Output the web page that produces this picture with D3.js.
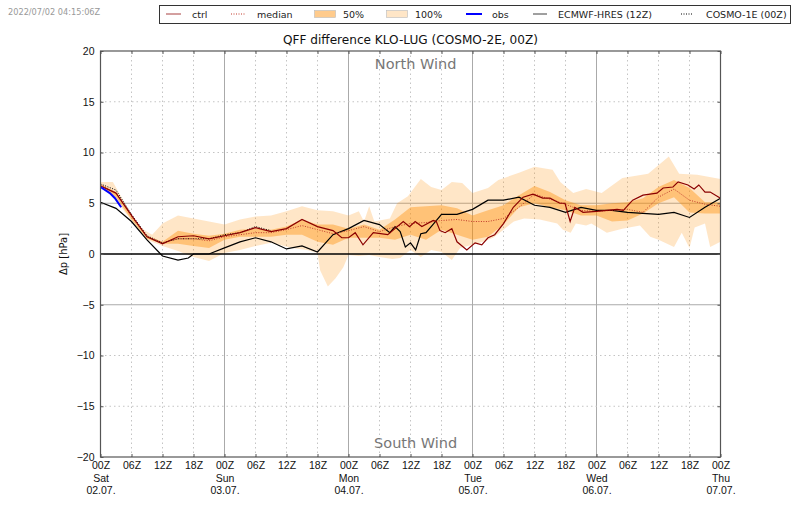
<!DOCTYPE html>
<html lang="en">
<head>
  <meta charset="UTF-8" />
  <title>QFF difference KLO-LUG</title>
  <script src="https://d3js.org/d3.v7.min.js"></script>
  <style>
    html, body { margin: 0; padding: 0; background: #fff; }
    svg { display: block; font-family: "DejaVu Sans", sans-serif; }
    .tick text { font-size: 10.5px; fill: #111; }
    .tick line { stroke: #555; }
    .band { stroke: none; }
    .line { fill: none; }
  </style>
</head>
<body>
  <svg width="800" height="509"></svg>

  <script>
    const title = "QFF difference KLO-LUG (COSMO-2E, 00Z)";
    const stamp = "2022/07/02 04:15:06Z";

    const gridHours = d3.range(0, 121, 3);
    const p75 = [6.9, 6.1, 3.8, 1.8, 1.2, 2.3, 2.0, 1.8, 2.0, 2.4, 2.5, 2.4, 2.7, 3.4, 2.9, 2.9, 2.5, 2.9, 2.4, 3.4, 4.6, 4.7, 4.8, 4.5, 3.8, 4.3, 4.8, 5.8, 6.7, 6.1, 5.3, 4.8, 4.8, 5.0, 5.1, 5.5, 6.6, 7.3, 6.5, 5.1, 5.1];
    const p25 = [6.7, 5.6, 3.4, 1.5, 1.0, 1.0, 0.8, 0.6, 1.4, 1.7, 1.7, 1.7, 1.9, 1.9, 1.2, 0.9, 1.6, 1.6, 1.6, 1.4, 1.9, 1.4, 2.4, 1.9, 1.4, 1.7, 2.9, 4.6, 5.0, 4.6, 4.3, 3.8, 3.8, 3.2, 3.3, 4.0, 5.0, 5.6, 4.1, 4.0, 4.0];
    const medianVals = [6.8, 6.0, 3.7, 1.7, 1.1, 1.5, 1.5, 1.3, 1.7, 1.9, 2.1, 2.1, 2.4, 2.8, 2.4, 2.0, 2.3, 2.7, 2.2, 2.7, 3.0, 3.1, 3.3, 3.4, 3.2, 3.2, 3.5, 4.6, 5.9, 5.4, 4.9, 4.3, 4.2, 4.3, 4.4, 4.1, 5.6, 6.4, 5.3, 4.9, 4.7];

    const maxHours = [0, 2.4, 4.4, 7, 9, 10, 12, 15, 18, 21, 24, 27, 30, 33, 36, 39, 42, 45, 48, 50, 51, 52, 53, 56, 57.4, 59.5, 62, 64, 66, 68, 70, 72, 75, 77, 81, 84, 87.5, 89, 91.5, 94, 97, 101, 106, 110, 112, 115.5, 120];
    const maxVals = [7.1, 7.1, 5.3, 2.9, 2.2, 1.9, 3.0, 3.8, 3.5, 3.2, 2.9, 3.4, 3.7, 3.8, 4.2, 4.7, 4.3, 4.2, 3.8, 4.2, 3.2, 4.7, 3.2, 3.5, 5.0, 5.7, 7.4, 6.6, 6.3, 7.1, 7.0, 6.0, 6.5, 7.3, 8.0, 8.6, 8.3, 7.1, 6.0, 6.4, 6.0, 7.5, 7.9, 9.6, 7.9, 7.8, 7.4];

    const minHours = [0, 3, 6, 9, 12, 15, 18, 21, 24, 27, 30, 33, 37, 40, 42, 42.5, 44, 45.5, 47, 48, 50, 52, 54, 56.5, 58, 60, 62, 64, 66, 68, 69.6, 72, 74, 76, 78, 80, 82, 85, 88.4, 89.5, 91, 92, 94, 95, 98, 101, 104.4, 106.4, 108, 111, 112.5, 114, 115, 117, 118, 120];
    const minVals = [6.8, 5.3, 3.3, 1.4, 0.8, 0.3, -0.3, -0.7, 0.1, 0.4, 0.8, 1.1, 0.6, 0.4, 0.1, -1.6, -3.2, -2.4, -1.3, -0.1, -0.2, -0.1, -0.3, -0.5, -0.4, 0.4, -0.3, 0.4, 0.2, -0.6, 0.6, 0.9, 1.2, 1.6, 2.4, 3.2, 3.5, 3.4, 3.0, 2.4, 2.1, 3.0, 2.8, 3.0, 2.1, 2.5, 2.8, 1.7, 1.4, 0.7, 2.1, 0.6, 2.6, 3.0, 0.7, 1.2];

    const ctrlHours = [0, 3, 6, 9, 12, 15, 18, 21, 24, 27, 30, 33, 36, 39, 42, 45, 46.7, 48, 49.3, 50.8, 52.8, 55.6, 58.6, 59.8, 60.9, 62.2, 64.4, 65, 65.7, 66.7, 68, 69, 70.9, 72.5, 73.8, 75, 76.3, 78, 79.9, 81.8, 83.7, 85.6, 87, 88.9, 89.9, 90.9, 91.8, 93.4, 96, 100, 101.2, 103, 105, 107.7, 108.9, 110.8, 111.8, 113.7, 114.9, 115.8, 117, 118, 120];
    const ctrlVals = [6.7, 6.0, 3.8, 1.7, 1.0, 1.7, 1.8, 1.5, 1.8, 2.1, 2.6, 2.2, 2.5, 3.4, 2.7, 2.3, 1.6, 1.6, 2.1, 0.9, 2.1, 1.9, 3.2, 2.7, 3.2, 2.7, 3.3, 3.2, 2.3, 2.1, 2.5, 1.2, 0.4, 1.1, 0.9, 1.6, 1.9, 3.0, 4.6, 5.6, 5.9, 5.5, 5.5, 5.0, 5.0, 3.2, 4.6, 4.1, 4.2, 4.4, 4.3, 5.3, 5.8, 6.0, 6.5, 6.6, 7.1, 6.8, 6.4, 6.8, 6.1, 6.1, 5.5];

    const hresHours = [0, 3, 6, 9, 12, 15, 17, 18, 21, 24, 27, 30, 33, 36, 39, 42, 45, 48, 51, 54, 56, 57, 58, 59, 60, 61, 62, 63, 64.5, 66, 69, 72, 75, 78, 81, 84, 87, 90, 93, 96, 99, 102, 105, 108, 111, 114, 117, 120];
    const hresVals = [5.1, 4.5, 3.2, 1.4, -0.2, -0.6, -0.4, 0.0, 0.0, 0.6, 1.2, 1.6, 1.2, 0.5, 0.8, 0.2, 1.9, 2.5, 3.3, 2.9, 2.1, 2.7, 2.2, 0.7, 1.1, 0.4, 2.0, 2.1, 3.0, 3.9, 3.9, 4.4, 5.3, 5.3, 5.6, 4.8, 4.6, 4.1, 4.6, 4.3, 4.3, 4.1, 4.0, 3.9, 4.1, 3.6, 4.6, 5.5];

    const cosmo1Hours = d3.range(0, 34, 3);
    const cosmo1Vals = [6.9, 6.3, 3.9, 1.8, 1.1, 1.5, 1.5, 1.5, 1.9, 2.1, 2.7, 2.3];

    const obsHours = [0, 1.8, 2.8, 4];
    const obsVals = [6.6, 6.0, 5.5, 4.6];

    const yTicks = [-20, -15, -10, -5, 0, 5, 10, 15, 20];
    const xTicks = d3.range(0, 121, 6);
    const dayLabels = { 0: ["Sat", "02.07."], 24: ["Sun", "03.07."], 48: ["Mon", "04.07."], 72: ["Tue", "05.07."], 96: ["Wed", "06.07."], 120: ["Thu", "07.07."] };

    const red = "#8b0000";
    const orange = "#ff8c00";

    const margin = { top: 51, right: 79.5, bottom: 52, left: 100.5 },
          width = 800 - margin.left - margin.right,
          height = 509 - margin.top - margin.bottom;

    const root = d3.select("svg");
    const svg = root.append("g")
      .attr("transform", `translate(${margin.left},${margin.top})`);

    const x = d3.scaleLinear().domain([0, 120]).range([0, width]);
    const y = d3.scaleLinear().domain([-20, 20]).range([height, 0]);

    function pairs(hours, vals) {
      return hours.map((h, i) => ({ h, v: vals[i] }));
    }

    // grid, the bands are see-through and sit on top of it
    svg.append("g").selectAll("line")
      .data(xTicks.filter(h => h > 0 && h < 120))
      .join("line")
      .attr("x1", d => x(d)).attr("x2", d => x(d))
      .attr("y1", 0).attr("y2", height)
      .attr("stroke", d => d % 24 === 0 ? "#aaa" : "#c4c4c4")
      .attr("stroke-width", 1)
      .attr("stroke-dasharray", d => d % 24 === 0 ? null : "1.5 3");

    svg.append("g").selectAll("line")
      .data(yTicks.filter(v => v !== 0 && Math.abs(v) < 20))
      .join("line")
      .attr("x1", 0).attr("x2", width)
      .attr("y1", d => y(d)).attr("y2", d => y(d))
      .attr("stroke", d => Math.abs(d) === 5 ? "#aaa" : "#c4c4c4")
      .attr("stroke-width", 1)
      .attr("stroke-dasharray", d => Math.abs(d) === 5 ? null : "1.5 3");

    // outer band: upper and lower edge have their own hours
    const fullEdge = pairs(maxHours, maxVals).concat(pairs(minHours, minVals).reverse());
    svg.append("path")
      .attr("class", "band")
      .attr("fill", orange).attr("fill-opacity", 0.22)
      .attr("d", d3.line().x(d => x(d.h)).y(d => y(d.v))(fullEdge) + "Z");

    svg.append("path")
      .datum(gridHours.map((h, i) => ({ h, lo: p25[i], hi: p75[i] })))
      .attr("class", "band")
      .attr("fill", orange).attr("fill-opacity", 0.4)
      .attr("d", d3.area().x(d => x(d.h)).y0(d => y(d.lo)).y1(d => y(d.hi)));

    svg.append("line")
      .attr("x1", 0).attr("x2", width)
      .attr("y1", y(0)).attr("y2", y(0))
      .attr("stroke", "#000").attr("stroke-width", 1.3);

    const line = d3.line().x(d => x(d.h)).y(d => y(d.v));

    svg.append("path").datum(pairs(hresHours, hresVals)).attr("class", "line")
      .attr("stroke", "#000").attr("stroke-width", 1.2).attr("d", line);
    svg.append("path").datum(pairs(cosmo1Hours, cosmo1Vals)).attr("class", "line")
      .attr("stroke", "#000").attr("stroke-width", 1).attr("stroke-dasharray", "1 1.5").attr("d", line);
    svg.append("path").datum(pairs(gridHours, medianVals)).attr("class", "line")
      .attr("stroke", "#c0392b").attr("stroke-width", 1).attr("stroke-dasharray", "1 1.5").attr("d", line);
    svg.append("path").datum(pairs(ctrlHours, ctrlVals)).attr("class", "line")
      .attr("stroke", red).attr("stroke-width", 1.2).attr("d", line);
    svg.append("path").datum(pairs(obsHours, obsVals)).attr("class", "line")
      .attr("stroke", "#0000ff").attr("stroke-width", 2).attr("d", line);

    // axes, ticks point into the plot
    const axisX = svg.append("g")
      .attr("transform", `translate(0,${height})`)
      .call(d3.axisBottom(x).tickValues(xTicks).tickSize(-3).tickPadding(5)
        .tickFormat(h => String(h % 24).padStart(2, "0") + "Z"));
    axisX.select(".domain").remove();
    axisX.selectAll(".tick text").attr("y", 5);
    axisX.selectAll(".tick").each(function (h) {
      const label = dayLabels[h];
      if (!label) return;
      label.forEach((t, i) => {
        d3.select(this).append("text")
          .attr("y", 21.5 + i * 12).attr("dy", "0.32em")
          .attr("fill", "#111")
          .attr("text-anchor", "middle")
          .text(t);
      });
    });

    svg.append("g")
      .call(d3.axisTop(x).tickValues(xTicks).tickSize(-3).tickFormat(""))
      .select(".domain").remove();

    const axisY = svg.append("g")
      .call(d3.axisLeft(y).tickValues(yTicks).tickSize(-3).tickPadding(6)
        .tickFormat(d => d < 0 ? "\u2212" + Math.abs(d) : d));
    axisY.select(".domain").remove();
    axisY.selectAll(".tick text").attr("x", -6);

    svg.append("g")
      .attr("transform", `translate(${width},0)`)
      .call(d3.axisRight(y).tickValues(yTicks).tickSize(-3).tickFormat(""))
      .select(".domain").remove();

    svg.append("rect")
      .attr("width", width).attr("height", height)
      .attr("fill", "none").attr("stroke", "#555").attr("stroke-width", 1.2);

    // labels
    svg.append("text")
      .attr("x", width / 2).attr("y", -7)
      .attr("text-anchor", "middle").attr("font-size", 12.1).attr("fill", "#111")
      .text(title);

    svg.append("text")
      .attr("x", x(61)).attr("y", 18)
      .attr("text-anchor", "middle").attr("font-size", 14.5).attr("fill", "#777")
      .text("North Wind");
    svg.append("text")
      .attr("x", x(61)).attr("y", height - 9)
      .attr("text-anchor", "middle").attr("font-size", 14.5).attr("fill", "#777")
      .text("South Wind");

    svg.append("text")
      .attr("transform", `translate(-34,${height / 2}) rotate(-90)`)
      .attr("text-anchor", "middle").attr("font-size", 10).attr("fill", "#111")
      .text("\u0394p [hPa]");

    root.append("text")
      .attr("x", 8).attr("y", 15)
      .attr("font-size", 8.2).attr("fill", "#999")
      .text(stamp);

    // legend
    const legendItems = [
      { label: "ctrl", kind: "line", color: red, x0: 166, x1: 181, tx: 192, opacity: 0.75 },
      { label: "median", kind: "dot", color: "#c0392b", x0: 231, x1: 245, tx: 257 },
      { label: "50%", kind: "patch", opacity: 0.45, x0: 314, x1: 335, tx: 343 },
      { label: "100%", kind: "patch", opacity: 0.22, x0: 386, x1: 407, tx: 415 },
      { label: "obs", kind: "wide", color: "#0000ff", x0: 466, x1: 482, tx: 492 },
      { label: "ECMWF-HRES (12Z)", kind: "line", color: "#000", x0: 533, x1: 547, tx: 558, opacity: 0.75 },
      { label: "COSMO-1E (00Z)", kind: "dot", color: "#000", x0: 681, x1: 693, tx: 706 }
    ];
    const legend = root.append("g");
    legend.append("rect")
      .attr("x", 159.5).attr("y", 5.5).attr("width", 631).attr("height", 18)
      .attr("fill", "#fff").attr("stroke", "#333").attr("stroke-width", 1);
    legendItems.forEach(d => {
      if (d.kind === "patch") {
        legend.append("rect")
          .attr("x", d.x0 + 0.5).attr("y", 10.5).attr("width", d.x1 - d.x0).attr("height", 7)
          .attr("fill", orange).attr("fill-opacity", d.opacity)
          .attr("stroke", "#bbb").attr("stroke-width", 0.6);
      } else {
        legend.append("line")
          .attr("x1", d.x0).attr("x2", d.x1).attr("y1", 14).attr("y2", 14)
          .attr("stroke", d.color)
          .attr("stroke-opacity", d.opacity || 1)
          .attr("stroke-width", d.kind === "wide" ? 2 : 1)
          .attr("stroke-dasharray", d.kind === "dot" ? "1 1.5" : null);
      }
      legend.append("text")
        .attr("x", d.tx).attr("y", 18)
        .attr("font-size", 9.5).attr("fill", "#222")
        .text(d.label);
    });
  </script>
</body>
</html>
